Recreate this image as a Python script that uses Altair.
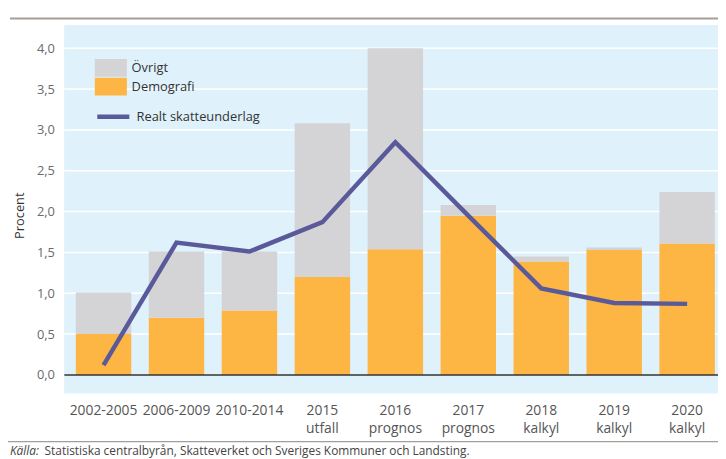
import altair as alt
import pandas as pd

# ---- data ----
periods = ["2002-2005", "2006-2009", "2010-2014", "2015 utfall", "2016 prognos",
           "2017 prognos", "2018 kalkyl", "2019 kalkyl", "2020 kalkyl"]
demografi = [0.50, 0.70, 0.79, 1.20, 1.54, 1.95, 1.39, 1.53, 1.61]
ovrigt = [0.51, 0.81, 0.72, 1.88, 2.46, 0.13, 0.06, 0.03, 0.63]
skatteunderlag = [0.12, 1.62, 1.51, 1.87, 2.85, 1.95, 1.06, 0.88, 0.87]
y_ticks = [0.0, 0.5, 1.0, 1.5, 2.0, 2.5, 3.0, 3.5, 4.0]
source_label = "Källa:"
source_text = "Statistiska centralbyrån, Skatteverket och Sveriges Kommuner och Landsting."

GREY = "#d4d4d6"
ORANGE = "#fdb543"
NAVY = "#5a5a9a"
BG = "#dff1fb"
FONT = "Open Sans"
Y_MIN, Y_MAX = -0.224, 4.28

bars = pd.DataFrame(
    [{"period": p, "komponent": "Demografi", "value": d, "ord": 0} for p, d in zip(periods, demografi)]
    + [{"period": p, "komponent": "Övrigt", "value": o, "ord": 1} for p, o in zip(periods, ovrigt)]
)
line_df = pd.DataFrame({"period": periods, "value": skatteunderlag,
                        "serie": ["Realt skatteunderlag"] * len(periods)})

xscale = alt.Scale(domain=periods, paddingInner=0.24, paddingOuter=0.1, align=0.785)
yscale = alt.Scale(domain=[Y_MIN, Y_MAX], nice=False, zero=False)

xaxis = alt.Axis(title=None, labelAngle=0, domain=False, ticks=False, grid=False,
                 labelExpr="split(datum.label, ' ')", labelPadding=11, labelFontSize=14,
                 labelLineHeight=18, labelColor="#555555", labelFont=FONT)
yaxis = alt.Axis(values=y_ticks, labelExpr="replace(format(datum.value, '.1f'), '.', ',')",
                 grid=True, gridColor="white", gridWidth=1.5, domain=False, ticks=False,
                 labelPadding=10, labelFontSize=13, labelColor="#6a6a6a", labelFont=FONT,
                 title="Procent", titleX=-45, titleY=192, titleFontSize=13, titleColor="#333333",
                 titleFontWeight="normal", titleFont=FONT, titleAlign="center", titleBaseline="middle")

one = pd.DataFrame({"a": [0]})

background = alt.Chart(one).mark_rect(color=BG).encode(
    x=alt.value(0), x2=alt.value(661), y=alt.value(0), y2=alt.value(372)
)

bar_layer = alt.Chart(bars).mark_bar().encode(
    x=alt.X("period:N", sort=periods, scale=xscale, axis=xaxis),
    y=alt.Y("value:Q", stack="zero", scale=yscale, axis=yaxis),
    color=alt.Color("komponent:N",
                    scale=alt.Scale(domain=["Övrigt", "Demografi"], range=[GREY, ORANGE]),
                    legend=alt.Legend(title=None, orient="none", legendX=38, legendY=34,
                                      symbolType="M-1.8,-1H1.8V1H-1.8Z", symbolSize=324,
                                      symbolStrokeWidth=0, labelFontSize=13, labelColor="#333333",
                                      labelFont=FONT, labelOffset=12, rowPadding=1, padding=0)),
    order=alt.Order("ord:Q"),
)

line_layer = alt.Chart(line_df).mark_line(strokeWidth=4.5).encode(
    x=alt.X("period:N", sort=periods),
    y=alt.Y("value:Q"),
    stroke=alt.Stroke("serie:N",
                      scale=alt.Scale(domain=["Realt skatteunderlag"], range=[NAVY]),
                      legend=alt.Legend(title=None, orient="none", legendX=38, legendY=81,
                                        symbolType="M-1.8,0H1.8", symbolSize=324,
                                        symbolStrokeWidth=4.5, labelFontSize=13,
                                        labelColor="#333333", labelFont=FONT, labelOffset=12,
                                        padding=0)),
)

grid_rules = alt.Chart(pd.DataFrame({"v": y_ticks[1:]})).mark_rule(color="white", strokeWidth=1.5).encode(
    y=alt.Y("v:Q")
)

zero_rule = alt.Chart(pd.DataFrame({"v": [0.0]})).mark_rule(color="#333333", strokeWidth=1.5).encode(
    y=alt.Y("v:Q")
)

# thin decorative frame lines above the plot and above the source note
frame_lines = alt.Chart(pd.DataFrame({"a": [0]})).mark_rule(
    color="#a39e9a", strokeWidth=2, clip=False
).encode(
    x=alt.value(-55), x2=alt.value(661),
    y=alt.datum(4.365, scale=yscale),
)
frame_lines2 = alt.Chart(pd.DataFrame({"b": [0]})).mark_rule(
    color="#a39e9a", strokeWidth=1.5, clip=False
).encode(
    x=alt.value(-57), x2=alt.value(661),
    y=alt.datum(-0.817, scale=yscale),
)
src1 = alt.Chart(one).mark_text(
    align="left", baseline="middle", fontSize=12, fontStyle="italic", font=FONT, color="#444444"
).encode(x=alt.value(-55), y=alt.value(431), text=alt.value(source_label))
src2 = alt.Chart(one).mark_text(
    align="left", baseline="middle", fontSize=12, font=FONT, color="#444444"
).encode(x=alt.value(-20), y=alt.value(431), text=alt.value(source_text))

chart = alt.layer(background, grid_rules, bar_layer, line_layer, zero_rule, frame_lines, frame_lines2,
                  src1, src2).resolve_scale(
    color="independent", stroke="independent"
).properties(
    width=661, height=372,
    padding={"left": 57, "top": 15, "right": 0, "bottom": 64},
    autosize=alt.AutoSizeParams(type="none"),
).configure(font=FONT).configure_view(fill=BG, stroke=None)

chart.save("out.html", embed_options={"renderer": "svg", "actions": False})
